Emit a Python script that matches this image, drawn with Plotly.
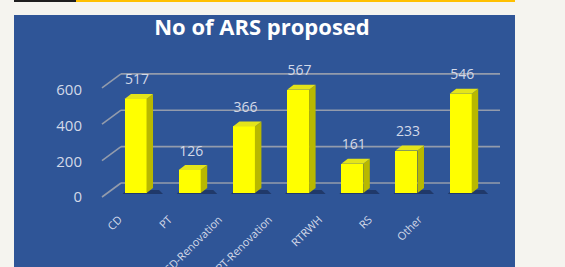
import plotly.graph_objects as go

# ---- data ----
categories = ["CD", "PT", "CD-Renovation", "PT-Renovation", "RTRWH", "RS", "Other"]
values = [517, 126, 366, 567, 161, 233, 546]
y_ticks = [0, 200, 400, 600]
title_text = "No of ARS proposed"

# ---- layout geometry (pixels) ----
W, H = 565, 267
ML, MR, MT, MB = 90, 55, 60, 67
PW, PH = W - ML - MR, H - MT - MB
XR = [-0.84, 6.91]
YR = [-38.5, 731]
PX_X = PW / (XR[1] - XR[0])      # px per category unit
PX_Y = PH / (YR[1] - YR[0])      # px per value unit

def ux(px):
    return px / PX_X

def uy(px):
    return px / PX_Y

def xdata(px_abs):
    return XR[0] + (px_abs - ML) / PX_X

BAR_W = 0.406
DEPTH_X, DEPTH_Y = ux(6.5), uy(5)

BLUE = "#2F5597"
TXT = "#d3d9e8"
GRID = "rgba(165,168,175,0.85)"

fig = go.Figure()

# front faces
fig.add_trace(go.Bar(x=list(range(len(categories))), y=values, width=BAR_W,
                     marker=dict(color="#FFFF00", line=dict(width=0)),
                     hoverinfo="skip", showlegend=False))

# side and top faces
for i, v in enumerate(values):
    xl, xr = i - BAR_W / 2, i + BAR_W / 2
    fig.add_trace(go.Scatter(
        x=[xr, xr + DEPTH_X, xr + DEPTH_X, xr, xr],
        y=[0, DEPTH_Y, v + DEPTH_Y, v, 0],
        fill="toself", fillcolor="#B8B800", mode="lines",
        line=dict(width=0, color="#B8B800"), hoverinfo="skip", showlegend=False))
    fig.add_trace(go.Scatter(
        x=[xl, xl + DEPTH_X, xr + DEPTH_X, xr, xl],
        y=[v, v + DEPTH_Y, v + DEPTH_Y, v, v],
        fill="toself", fillcolor="#E4E41A", mode="lines",
        line=dict(width=0, color="#E4E41A"), hoverinfo="skip", showlegend=False))

# value labels
fig.add_trace(go.Scatter(
    x=[i + ux(1.5) for i in range(len(values))],
    y=[v + uy(18) for v in values],
    text=[str(v) for v in values], mode="text",
    textfont=dict(family="Open Sans", size=14, color=TXT),
    hoverinfo="skip", showlegend=False))

# invisible trace for overlay axes
fig.add_trace(go.Scatter(x=list(range(len(categories))), y=[0] * len(categories),
                         xaxis="x2", yaxis="y2", mode="markers",
                         marker=dict(opacity=0), hoverinfo="skip", showlegend=False))

shapes = []
def px_paper_x(px):
    return (px - ML) / PW

def px_paper_y(py):
    return (H - MB - py) / PH

shapes.append(dict(type="rect", xref="paper", yref="paper", layer="below",
                   x0=px_paper_x(14), x1=px_paper_x(515), y0=px_paper_y(270), y1=px_paper_y(15),
                   fillcolor=BLUE, line=dict(width=0)))
shapes.append(dict(type="rect", xref="paper", yref="paper", layer="below",
                   x0=px_paper_x(14), x1=px_paper_x(76), y0=px_paper_y(2), y1=px_paper_y(-1),
                   fillcolor="#1e1e1e", line=dict(width=0)))
shapes.append(dict(type="rect", xref="paper", yref="paper", layer="below",
                   x0=px_paper_x(76), x1=px_paper_x(515), y0=px_paper_y(2), y1=px_paper_y(-1),
                   fillcolor="#FFC000", line=dict(width=0)))

# gridlines: back wall + diagonal to front
XF = xdata(102)
XB = xdata(121)
XE = xdata(500)
for t in y_ticks:
    yb = t + uy(10)
    yf = t - uy(4)
    shapes.append(dict(type="line", xref="x", yref="y", layer="below",
                       x0=XB, x1=XE, y0=yb, y1=yb, line=dict(color=GRID, width=1.6)))
    shapes.append(dict(type="line", xref="x", yref="y", layer="below",
                       x0=XF, x1=XB, y0=yf, y1=yb, line=dict(color=GRID, width=1.6)))

# shadows at bar bases
for i, v in enumerate(values):
    xl, xr = i - BAR_W / 2, i + BAR_W / 2
    shapes.append(dict(type="path", xref="x", yref="y", layer="below",
                       path=f"M {xl - ux(2)},{-uy(1)} L {xr + DEPTH_X + ux(10)},{-uy(1)} "
                            f"L {xr + DEPTH_X + ux(6)},{uy(3)} L {xl + ux(2)},{uy(3)} Z",
                       fillcolor="rgba(20,35,70,0.55)", line=dict(width=0)))

fig.update_layout(
    width=W, height=H,
    margin=dict(l=ML, r=MR, t=MT, b=MB, autoexpand=False),
    paper_bgcolor="#F5F4EF",
    plot_bgcolor="rgba(0,0,0,0)",
    shapes=shapes,
    bargap=0,
    title=dict(text=f"<b>{title_text}</b>", x=262 / W, xref="container", xanchor="center",
               y=1 - 27 / H, yref="container", yanchor="middle",
               font=dict(family="Open Sans", size=22, color="white")),
    xaxis=dict(range=XR, showgrid=False, zeroline=False, showticklabels=False,
               showline=False, ticks="", automargin=False),
    yaxis=dict(range=YR, showgrid=False, zeroline=False, showticklabels=False,
               showline=False, ticks="", automargin=False),
    xaxis2=dict(range=[-0.58, 7.82], overlaying="x", anchor="y2", side="bottom",
                tickvals=list(range(len(categories))), ticktext=categories,
                tickangle=-45, showgrid=False, zeroline=False, showline=False, ticks="",
                ticklabelstandoff=10, automargin=False,
                tickfont=dict(family="Open Sans", size=11, color=TXT)),
    yaxis2=dict(range=[-16.8, 768], overlaying="y", anchor="x2", side="left",
                tickvals=y_ticks, showgrid=False, zeroline=False, showline=False, ticks="",
                ticklabelstandoff=7, automargin=False,
                tickfont=dict(family="Open Sans", size=15, color=TXT)),
    showlegend=False,
)

fig.write_html("out.html", config={"displayModeBar": False},
               post_script="document.body.style.margin='0';document.body.style.overflow='hidden';")
